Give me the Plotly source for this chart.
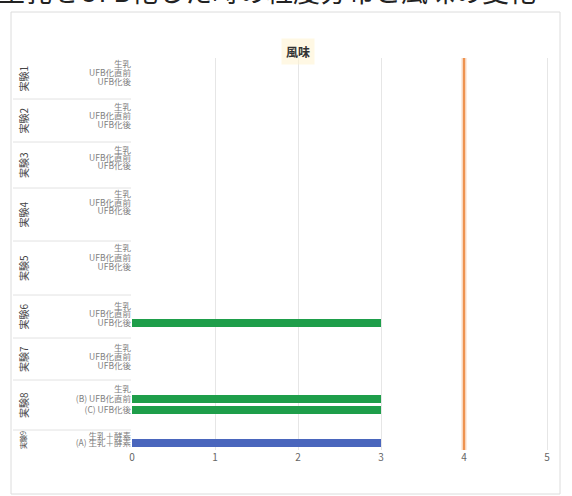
import plotly.graph_objects as go

# ---- data ----
groups = ["実験1", "実験2", "実験3", "実験4", "実験5", "実験6", "実験7", "実験8", "実験9"]
row_labels = [
    ["生乳", "UFB化直前", "UFB化後"],
    ["生乳", "UFB化直前", "UFB化後"],
    ["生乳", "UFB化直前", "UFB化後"],
    ["生乳", "UFB化直前", "UFB化後"],
    ["生乳", "UFB化直前", "UFB化後"],
    ["生乳", "UFB化直前", "UFB化後"],
    ["生乳", "UFB化直前", "UFB化後"],
    ["生乳", "(B) UFB化直前", "(C) UFB化後"],
    ["生乳＋酵素", "(A) 生乳＋酵素"],
]
flavor_scores = [
    [None, None, None],
    [None, None, None],
    [None, None, None],
    [None, None, None],
    [None, None, None],
    [None, None, 3],
    [None, None, None],
    [None, 3, 3],
    [None, 3],
]
bar_series = [
    ["", "", ""], ["", "", ""], ["", "", ""], ["", "", ""], ["", "", ""],
    ["", "", "ufb"], ["", "", ""], ["", "ufb", "ufb"], ["", "ref"],
]
reference_score = 4
x_ticks = [0, 1, 2, 3, 4, 5]
chart_title = "風味"
page_heading = "生乳をUFB化した時の粒度分布と風味の変化"

# ---- layout of the category axis (offsets from the plot top, px units) ----
row_pos = [
    [6, 15, 24], [49, 58, 67], [92, 100, 108], [136, 145, 153],
    [190, 200, 209], [248, 256, 265], [290, 299, 308], [331, 341, 352],
    [378, 385],
]
group_edges = [0, 41, 84, 130, 183, 237, 280, 322, 372, 392]
PLOT_H = 392
series_colors = {"ufb": "#1e9e4a", "ref": "#4a66bd"}
JP = "Noto Sans CJK JP"

L, R, T, B = 132, 20, 58, 46
W, H = 572, 496
PW = W - L - R


def px_x(p):
    return (p - L) / PW


def px_y(p):
    return (H - B - p) / PLOT_H


fig = go.Figure()

for key, color in series_colors.items():
    xs, ys = [], []
    for g in range(len(groups)):
        for r, v in enumerate(flavor_scores[g]):
            if v is not None and bar_series[g][r] == key:
                xs.append(v)
                ys.append(row_pos[g][r])
    fig.add_trace(go.Bar(
        x=xs, y=ys, orientation="h", width=7.5,
        marker=dict(color=color, line=dict(width=0)),
        showlegend=False, hoverinfo="x",
    ))

tickvals, ticktext = [], []
for g in range(len(groups)):
    tickvals += row_pos[g]
    ticktext += row_labels[g]

shapes = []
# chart frame
shapes.append(dict(type="rect", xref="paper", yref="paper",
                   x0=px_x(11), x1=px_x(560), y0=px_y(494), y1=px_y(12),
                   line=dict(color="#dcdcdc", width=1), layer="below"))
# group separators in the label column
for e in group_edges[1:-1]:
    shapes.append(dict(type="line", xref="paper", yref="y",
                       x0=px_x(13), x1=px_x(131), y0=e, y1=e,
                       line=dict(color="#e2e2e2", width=1)))
# reference line
shapes.append(dict(type="line", xref="x", yref="paper",
                   x0=reference_score, x1=reference_score, y0=0, y1=1,
                   line=dict(color="rgba(240,160,100,0.2)", width=6)))
shapes.append(dict(type="line", xref="x", yref="paper",
                   x0=reference_score, x1=reference_score, y0=0, y1=1,
                   line=dict(color="#ee9350", width=2.5)))

annotations = []
for g, name in enumerate(groups):
    yc = (group_edges[g] + group_edges[g + 1]) / 2
    annotations.append(dict(
        xref="paper", yref="y", x=px_x(23), y=yc, text=name, textangle=-90,
        showarrow=False, font=dict(family=JP, size=10 if g < 8 else 7, color="#444"),
        xanchor="center", yanchor="middle",
    ))
annotations.append(dict(
    xref="paper", yref="paper", x=px_x(298), y=px_y(38), text="<b>" + chart_title + "</b>",
    showarrow=False, font=dict(family=JP, size=12, color="#333"),
    bgcolor="rgba(255,243,205,0.55)", borderpad=4,
))
annotations.append(dict(
    xref="paper", yref="paper", x=px_x(-4), y=px_y(12), text=page_heading,
    showarrow=False, xanchor="left", yanchor="bottom",
    font=dict(family=JP, size=27, color="#222"),
))

fig.update_layout(
    width=W, height=H,
    margin=dict(l=L, r=R, t=T, b=B),
    paper_bgcolor="white", plot_bgcolor="white",
    bargap=0, barmode="overlay",
    xaxis=dict(range=[0, 5.06], tickvals=x_ticks, showgrid=True,
               gridcolor="#e6e6e6", gridwidth=1, zeroline=False,
               tickfont=dict(family=JP, size=10, color="#666"), ticks=""),
    yaxis=dict(range=[PLOT_H, 0], tickvals=tickvals, ticktext=ticktext,
               showgrid=False, zeroline=False, ticks="",
               tickfont=dict(family=JP, size=8.5, color="#808080")),
    shapes=shapes, annotations=annotations,
    font=dict(family=JP),
)

fig.write_html("out.html")
